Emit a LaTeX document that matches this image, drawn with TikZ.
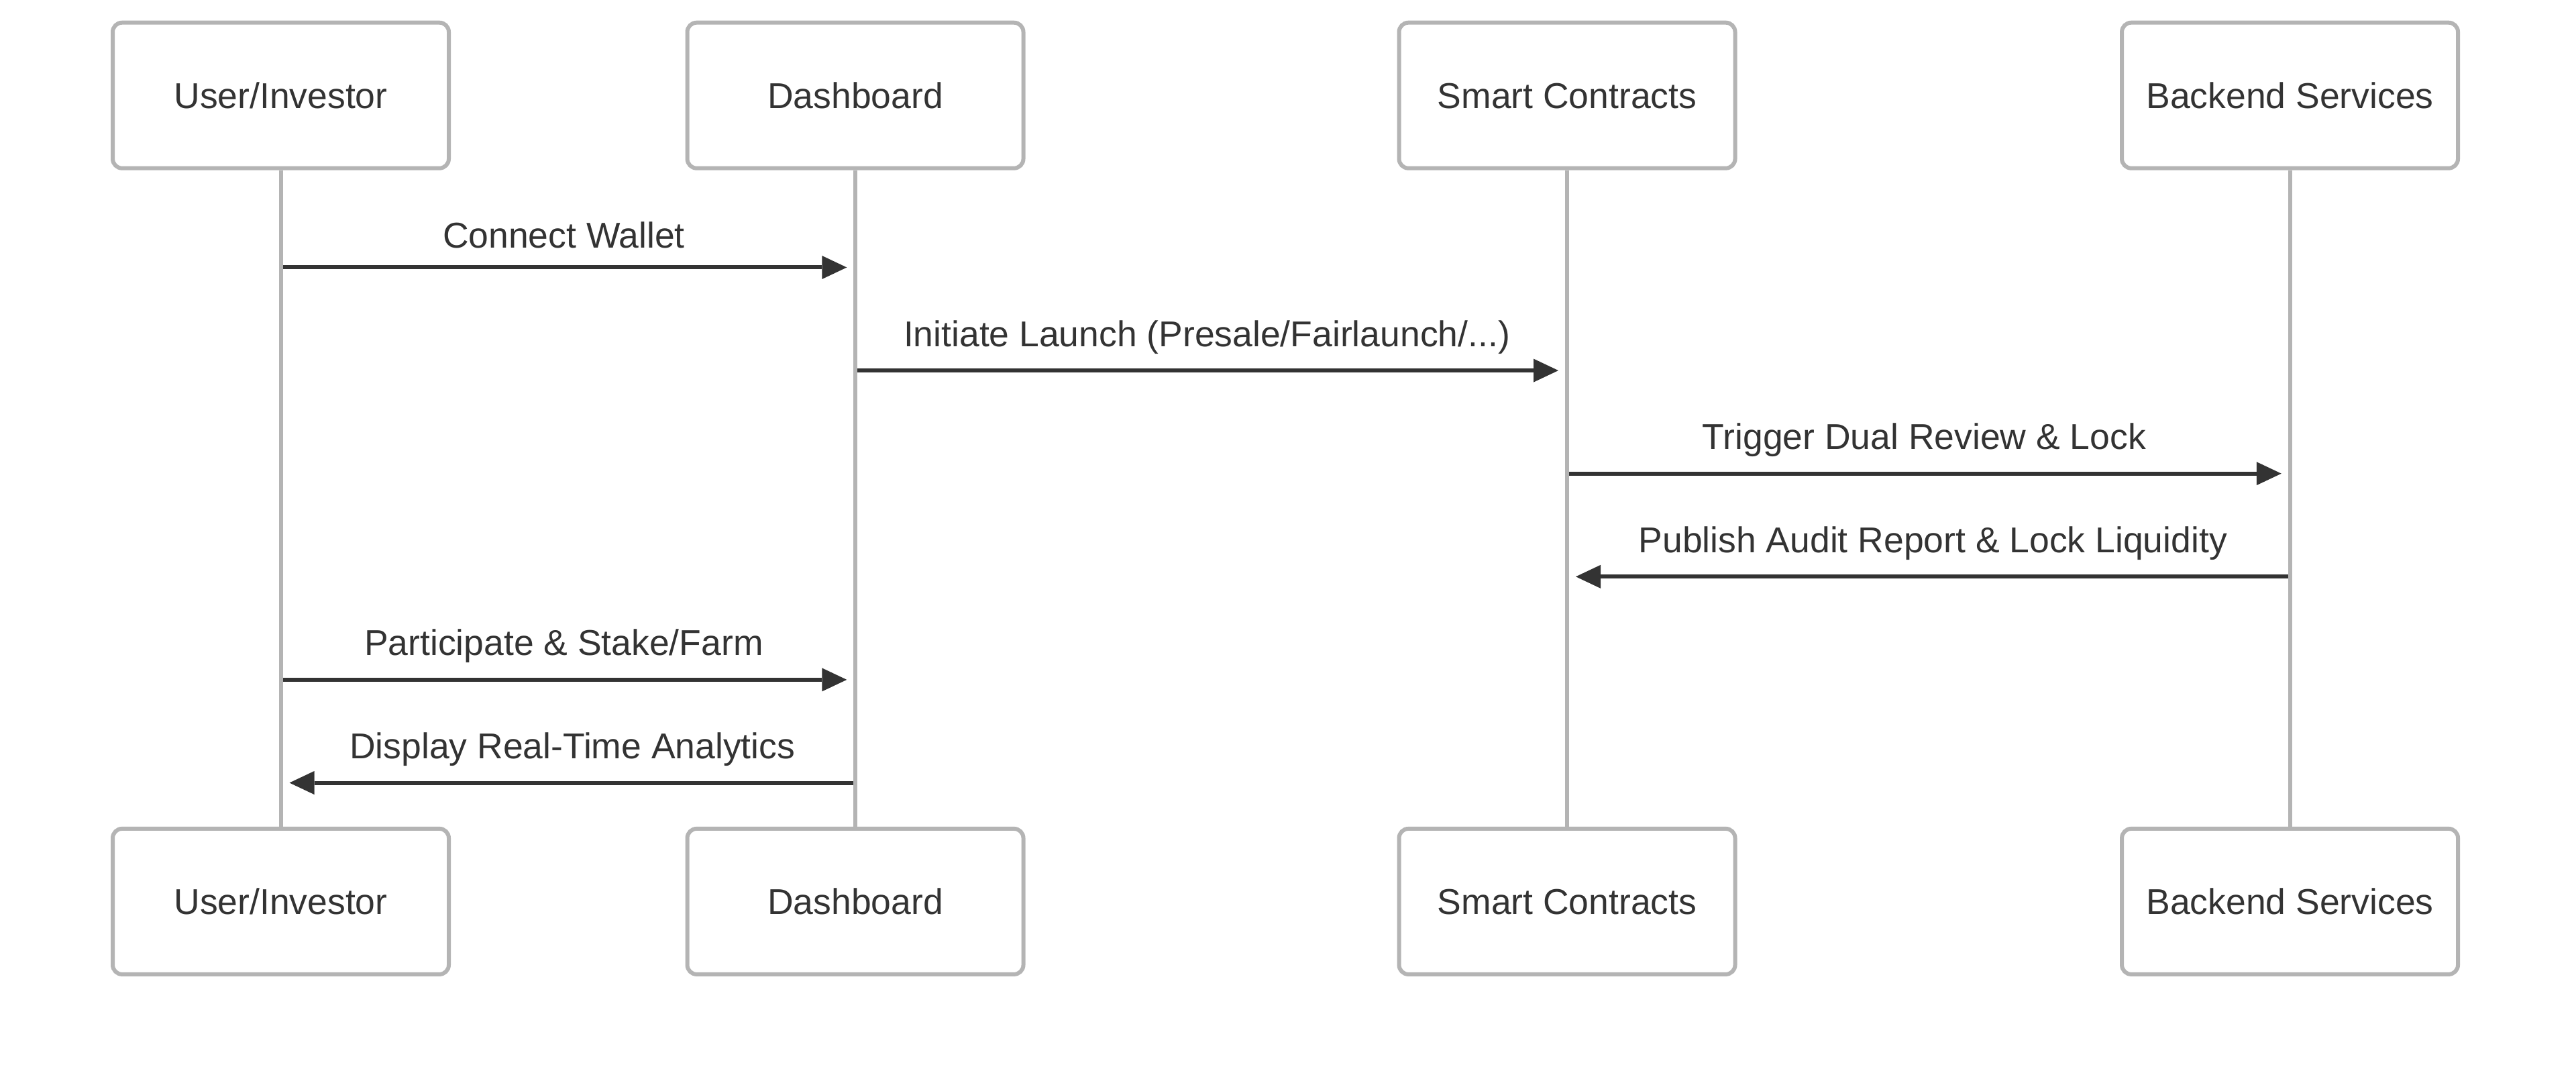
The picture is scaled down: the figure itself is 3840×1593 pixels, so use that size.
\documentclass[tikz,border=0pt]{standalone}
\usepackage{fontspec}
\setmainfont{Liberation Sans}
\usetikzlibrary{arrows.meta}
\definecolor{actorline}{HTML}{B4B4B4}
\definecolor{ink}{HTML}{333333}
\newcommand{\diagfont}{\fontsize{13.375pt}{16pt}\selectfont}
\begin{document}
\begin{tikzpicture}[x=0.25pt,y=-0.25pt,
  actor/.style={draw=actorline, line width=1.5pt, fill=white, rounded corners=3.5pt,
    minimum width=125.25pt, minimum height=54.25pt, inner sep=0pt, text=ink,
    font=\diagfont, text height=9.6pt, text depth=0pt},
  life/.style={draw=actorline, line width=1.5pt},
  msg/.style={draw=ink, line width=1.5pt, -{Triangle[length=9.25pt,width=8.75pt,line width=0pt]}},
  lbl/.style={midway, anchor=base, yshift=9pt, inner sep=0pt, text=ink, font=\diagfont}]
\fill[white] (0,0) rectangle (3840,1593);
\useasboundingbox (0,0) rectangle (3840,1593);
% actors
\node[actor] (uT) at (418.5,142.2) {User/Investor};
\node[actor] (dT) at (1275,142.2) {Dashboard};
\node[actor] (sT) at (2336,142.2) {Smart Contracts};
\node[actor] (bT) at (3413.5,142.2) {Backend Services};
\node[actor] (uB) at (418.5,1343.4) {User/Investor};
\node[actor] (dB) at (1275,1343.4) {Dashboard};
\node[actor] (sB) at (2336,1343.4) {Smart Contracts};
\node[actor] (bB) at (3413.5,1343.4) {Backend Services};
% message end points
\coordinate (m1s) at (418.5,398.5);  \coordinate (m1e) at (1262.3,398.5);
\coordinate (m2s) at (1275,552.1);   \coordinate (m2e) at (2323,552.1);
\coordinate (m3s) at (2336,705.7);   \coordinate (m3e) at (3400.7,705.7);
\coordinate (m4s) at (3413.5,859.3); \coordinate (m4e) at (2349,859.3);
\coordinate (m5s) at (418.5,1012.9); \coordinate (m5e) at (1262.3,1012.9);
\coordinate (m6s) at (1275,1166.5);  \coordinate (m6e) at (431.5,1166.5);
% messages
\draw[msg] (m1s) -- node[lbl, yshift=-1.75pt] (l1) {Connect Wallet} (m1e);
\draw[msg] (m2s) -- node[lbl] (l2) {Initiate Launch (Presale/Fairlaunch/...)} (m2e);
\draw[msg] (m3s) -- node[lbl] (l3) {Trigger Dual Review \& Lock} (m3e);
\draw[msg] (m4s) -- node[lbl] (l4) {Publish Audit Report \& Lock Liquidity} (m4e);
\draw[msg] (m5s) -- node[lbl] (l5) {Participate \& Stake/Farm} (m5e);
\draw[msg] (m6s) -- node[lbl] (l6) {Display Real-Time Analytics} (m6e);
% lifelines
\draw[life] (uT.south) -- (uB.north);
\draw[life] (dT.south) -- (dB.north);
\draw[life] (sT.south) -- (sB.north);
\draw[life] (bT.south) -- (bB.north);
\end{tikzpicture}
\end{document}
